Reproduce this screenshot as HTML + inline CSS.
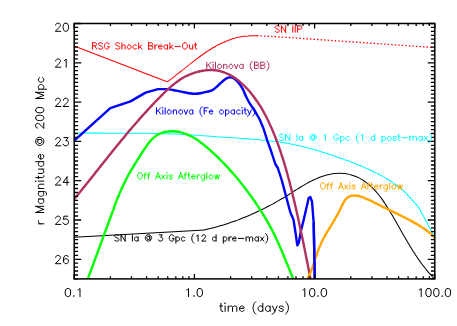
<!DOCTYPE html>
<html lang="en"><head><meta charset="utf-8"><title>Light curves</title>
<style>html,body{margin:0;padding:0;background:#fff}body{width:457px;height:326px;overflow:hidden;font-family:"Liberation Sans",sans-serif}svg{display:block}</style></head>
<body>
<svg width="457" height="326" viewBox="0 0 457 326" role="img" aria-label="Light curves: r magnitude at 200 Mpc versus time in days">
<rect width="457" height="326" fill="#fff"/>
<defs><clipPath id="c"><rect x="74.20" y="23.50" width="360.60" height="255.40"/></clipPath></defs>
<g fill="none" stroke-linejoin="round" clip-path="url(#c)">
<path d="M74.2 46.1L167.0 81.7" stroke="#f00" stroke-width="1.05"/>
<path d="M167.3 81.9C167.8 81.5 169.5 80.3 170.6 79.4C171.7 78.6 172.9 77.7 174.0 76.8C175.1 76.0 176.2 75.1 177.3 74.2C178.4 73.3 179.6 72.4 180.7 71.5C181.8 70.6 182.9 69.7 184.1 68.8C185.2 67.9 186.3 67.0 187.5 66.1C188.6 65.2 189.7 64.3 190.9 63.4C192.0 62.5 193.2 61.6 194.3 60.7C195.5 59.8 196.6 58.9 197.8 58.1C198.9 57.2 200.1 56.4 201.3 55.5C202.5 54.7 203.7 53.8 204.8 53.0C206.0 52.2 207.2 51.4 208.4 50.6C209.7 49.8 210.9 49.1 212.1 48.3C213.3 47.6 214.6 46.9 215.8 46.2C217.1 45.5 218.3 44.8 219.6 44.2C220.9 43.6 222.1 43.0 223.4 42.4C224.7 41.8 226.0 41.2 227.3 40.7C228.7 40.2 230.0 39.7 231.3 39.3C232.7 38.8 234.0 38.4 235.4 38.1C236.8 37.7 238.2 37.3 239.6 37.1C241.0 36.8 242.4 36.5 243.8 36.3C245.3 36.1 246.7 36.0 248.2 35.9C249.7 35.7 251.1 35.7 252.6 35.7C254.1 35.7 256.4 35.8 257.2 35.8" stroke="#f00" stroke-width="1.05"/>
<path d="M257.0 35.6L288.0 37.5L435.0 47.6" stroke="#f00" stroke-width="1.30" stroke-dasharray="1.45 2.09"/>
<path d="M74.0 132.9C74.7 132.9 76.7 133.0 78.1 133.0C79.4 133.0 80.8 133.0 82.1 133.0C83.5 133.0 84.9 133.1 86.2 133.1C87.6 133.1 88.9 133.1 90.3 133.1C91.6 133.1 93.0 133.1 94.3 133.1C95.7 133.1 97.0 133.1 98.4 133.1C99.8 133.1 101.1 133.1 102.5 133.1C103.8 133.1 105.2 133.1 106.5 133.2C107.9 133.2 109.3 133.2 110.6 133.2C112.0 133.2 113.3 133.2 114.7 133.2C116.1 133.2 117.4 133.2 118.8 133.2C120.1 133.2 121.5 133.2 122.9 133.2C124.2 133.2 125.6 133.2 126.9 133.2C128.3 133.2 129.7 133.2 131.0 133.2C132.4 133.2 133.7 133.2 135.1 133.2C136.5 133.2 137.8 133.2 139.2 133.2C140.6 133.2 141.9 133.2 143.3 133.3C144.6 133.3 146.0 133.3 147.4 133.3C148.7 133.3 150.1 133.3 151.5 133.4C152.8 133.4 154.2 133.4 155.6 133.4C156.9 133.5 158.3 133.5 159.6 133.5C161.0 133.6 162.4 133.6 163.7 133.6C165.1 133.7 166.5 133.7 167.8 133.8C169.2 133.8 170.6 133.9 171.9 133.9C173.3 134.0 174.6 134.0 176.0 134.1C177.4 134.2 178.7 134.2 180.1 134.3C181.5 134.4 182.8 134.4 184.2 134.5C185.5 134.6 186.9 134.7 188.3 134.7C189.6 134.8 191.0 134.9 192.4 135.0C193.7 135.1 195.1 135.2 196.4 135.3C197.8 135.3 199.2 135.4 200.5 135.5C201.9 135.6 203.2 135.7 204.6 135.8C206.0 135.9 207.3 136.0 208.7 136.1C210.0 136.2 211.4 136.3 212.8 136.4C214.1 136.5 215.5 136.6 216.8 136.7C218.2 136.8 219.6 136.9 220.9 137.0C222.3 137.1 223.6 137.2 225.0 137.3C226.3 137.4 227.7 137.5 229.0 137.5C230.4 137.6 231.8 137.7 233.1 137.8C234.5 137.9 235.8 138.0 237.2 138.1C238.5 138.2 239.9 138.3 241.2 138.4C242.6 138.5 243.9 138.6 245.3 138.6C246.6 138.7 248.0 138.8 249.3 138.9C250.7 139.0 252.0 139.1 253.4 139.2C254.7 139.4 256.1 139.5 257.4 139.6C258.8 139.7 260.1 139.8 261.4 139.9C262.8 140.1 264.1 140.2 265.5 140.3C266.8 140.5 268.2 140.6 269.5 140.8C270.8 140.9 272.2 141.1 273.5 141.3C274.9 141.4 276.2 141.6 277.5 141.8C278.9 142.0 280.2 142.2 281.6 142.4C282.9 142.6 284.2 142.8 285.6 143.0C286.9 143.3 288.2 143.5 289.6 143.7C290.9 144.0 292.2 144.3 293.6 144.5C294.9 144.8 296.2 145.1 297.6 145.4C298.9 145.7 300.2 146.0 301.5 146.3C302.9 146.6 304.2 146.9 305.5 147.3C306.8 147.6 308.2 148.0 309.5 148.3C310.8 148.7 312.1 149.0 313.4 149.4C314.8 149.8 316.1 150.2 317.4 150.5C318.7 150.9 320.0 151.3 321.3 151.7C322.7 152.1 324.0 152.5 325.3 153.0C326.6 153.4 327.9 153.8 329.2 154.2C330.5 154.7 331.8 155.1 333.1 155.5C334.4 156.0 335.7 156.4 337.0 156.9C338.3 157.3 339.6 157.8 340.9 158.3C342.2 158.7 343.5 159.2 344.7 159.7C346.0 160.1 347.3 160.6 348.6 161.1C349.9 161.6 351.1 162.0 352.4 162.5C353.7 163.0 354.9 163.5 356.2 164.0C357.4 164.5 358.7 165.0 359.9 165.6C361.2 166.1 362.4 166.6 363.7 167.1C364.9 167.7 366.1 168.2 367.4 168.8C368.6 169.3 369.8 169.9 371.0 170.4C372.3 171.0 373.5 171.6 374.7 172.2C375.9 172.8 377.1 173.4 378.3 174.0C379.5 174.6 380.7 175.3 381.8 175.9C383.0 176.6 384.2 177.2 385.4 177.9C386.5 178.6 387.7 179.3 388.8 180.0C390.0 180.7 391.1 181.4 392.3 182.2C393.4 183.0 394.5 183.7 395.6 184.5C396.7 185.3 397.8 186.1 398.9 187.0C400.0 187.8 401.0 188.7 402.1 189.6C403.1 190.5 404.2 191.4 405.2 192.3C406.2 193.3 407.6 194.8 408.1 195.3L408.0 195.3L418.3 206.8L435.2 238.1" stroke="#0ff" stroke-width="1.05"/>
<path d="M74.0 237.3L174.0 231.8L204.2 230.0" stroke="#000" stroke-width="1.05"/>
<path d="M204.1 229.9C204.7 229.7 206.8 229.3 208.2 229.0C209.5 228.7 210.9 228.3 212.2 228.0C213.6 227.7 214.9 227.3 216.2 226.9C217.6 226.6 218.9 226.2 220.2 225.8C221.5 225.4 222.8 225.1 224.2 224.7C225.5 224.3 226.8 223.8 228.1 223.4C229.4 223.0 230.7 222.6 231.9 222.1C233.2 221.7 234.5 221.2 235.8 220.7C237.1 220.3 238.3 219.8 239.6 219.3C240.9 218.8 242.1 218.3 243.4 217.8C244.7 217.3 245.9 216.8 247.2 216.3C248.4 215.8 249.7 215.2 250.9 214.7C252.2 214.1 253.4 213.6 254.6 213.0C255.9 212.5 257.1 211.9 258.3 211.3C259.5 210.7 260.8 210.1 262.0 209.5C263.2 208.9 264.4 208.3 265.6 207.7C266.8 207.1 268.0 206.5 269.2 205.8C270.4 205.2 271.7 204.5 272.9 203.9C274.0 203.2 275.2 202.6 276.4 201.9C277.6 201.2 278.8 200.5 280.0 199.8C281.2 199.1 282.4 198.4 283.6 197.7C284.7 197.0 285.9 196.3 287.1 195.6C288.3 194.8 289.5 194.1 290.6 193.4C291.8 192.6 293.0 191.9 294.2 191.1C295.3 190.4 296.5 189.6 297.7 188.9C298.9 188.2 300.1 187.4 301.2 186.7C302.4 186.0 303.6 185.3 304.8 184.6C306.0 183.9 307.2 183.2 308.5 182.5C309.7 181.9 310.9 181.2 312.1 180.6C313.4 180.0 314.6 179.4 315.9 178.9C317.1 178.3 318.4 177.8 319.7 177.3C321.0 176.8 322.3 176.3 323.6 175.9C324.9 175.5 326.2 175.1 327.5 174.8C328.9 174.5 330.2 174.2 331.5 174.0C332.9 173.7 334.2 173.6 335.6 173.4C336.9 173.3 338.2 173.3 339.6 173.3C340.9 173.3 342.2 173.3 343.6 173.4C344.9 173.6 346.2 173.7 347.5 174.0C348.8 174.2 350.1 174.5 351.4 174.9C352.7 175.3 354.0 175.7 355.2 176.2C356.4 176.7 357.7 177.3 358.9 177.9C360.1 178.5 361.2 179.2 362.4 179.9C363.5 180.6 364.7 181.4 365.8 182.1C366.8 182.9 367.9 183.8 369.0 184.7C370.0 185.6 371.0 186.5 372.0 187.4C373.0 188.4 373.9 189.4 374.9 190.4C375.8 191.4 376.7 192.4 377.6 193.5C378.5 194.5 379.3 195.6 380.2 196.7C381.0 197.8 381.9 199.0 382.7 200.1C383.5 201.3 384.3 202.4 385.0 203.6C385.8 204.8 386.6 206.0 387.3 207.2C388.1 208.3 388.8 209.5 389.5 210.7C390.3 211.9 391.0 213.2 391.7 214.4C392.4 215.6 393.1 216.8 393.8 218.0C394.5 219.2 395.2 220.4 395.9 221.6C396.5 222.8 397.2 224.0 397.9 225.2C398.6 226.4 399.2 227.6 399.9 228.7C400.6 229.9 401.3 231.1 401.9 232.3C402.6 233.5 403.3 234.7 403.9 235.8C404.6 237.0 405.3 238.2 406.0 239.3C406.6 240.5 407.3 241.7 408.0 242.8C408.7 244.0 409.4 245.1 410.1 246.3C410.8 247.4 411.5 248.6 412.2 249.7C412.9 250.9 413.6 252.0 414.4 253.1C415.1 254.3 415.9 255.4 416.6 256.5C417.4 257.6 418.1 258.8 418.9 259.9C419.7 261.0 420.5 262.1 421.3 263.2C422.1 264.3 422.9 265.4 423.8 266.4C424.6 267.5 425.5 268.6 426.3 269.7C427.2 270.8 428.1 271.8 429.0 272.9C429.9 273.9 430.9 275.0 431.8 276.0C432.8 277.1 434.3 278.6 434.8 279.2" stroke="#000" stroke-width="1.05"/>
<path d="M74.0 140.9L110.3 108.2L130.5 101.4L145.6 92.6L158.1 89.1L168.2 89.1L168.2 89.1 C169.2 89.3 171.9 89.8 174.0 90.2 C176.1 90.6 177.6 91.0 181.0 91.6 C184.4 92.2 190.6 93.6 194.3 93.8 C198.0 94.0 200.2 93.2 203.1 92.6 C206.0 92.0 209.3 91.7 211.9 90.4 C214.5 89.1 216.4 86.9 218.6 85.0 C220.8 83.1 223.4 80.5 225.2 79.2 C227.0 77.9 228.1 77.5 229.6 77.4 C231.1 77.3 232.5 77.7 234.0 78.5 C235.5 79.3 236.9 80.7 238.4 82.5 C239.9 84.3 241.5 86.7 242.8 89.1 C244.1 91.5 245.1 94.5 246.2 96.8 C247.3 99.1 248.1 100.7 249.5 103.0 C250.9 105.3 253.7 109.2 254.5 110.5L259.5 119.0L263.5 128.5L267.3 140.6L270.9 150.5L275.3 164.0L277.8 168.0L281.7 180.0L286.0 196.1L290.3 212.3L293.5 219.8L295.7 233.8L297.3 245.4L298.9 242.4L301.0 230.5L303.2 221.9L306.4 208.0L308.6 198.3L310.3 197.0L312.0 201.5L313.7 223.0L314.8 280.0" stroke="#00f" stroke-width="2.40"/>
<path d="M74.0 199.4C74.4 198.9 75.7 197.3 76.5 196.3C77.4 195.2 78.3 194.2 79.1 193.1C80.0 192.1 80.8 191.0 81.7 190.0C82.5 188.9 83.4 187.8 84.2 186.8C85.1 185.7 85.9 184.7 86.8 183.6C87.6 182.5 88.5 181.5 89.3 180.4C90.1 179.4 91.0 178.3 91.8 177.2C92.7 176.2 93.5 175.1 94.4 174.1C95.2 173.0 96.0 171.9 96.9 170.9C97.7 169.8 98.6 168.8 99.4 167.7C100.3 166.6 101.1 165.6 101.9 164.5C102.8 163.4 103.6 162.4 104.5 161.3C105.3 160.3 106.2 159.2 107.0 158.2C107.8 157.1 108.7 156.0 109.5 155.0C110.4 153.9 111.2 152.9 112.1 151.8C112.9 150.8 113.8 149.7 114.6 148.7C115.5 147.6 116.3 146.6 117.2 145.5C118.0 144.5 118.9 143.4 119.7 142.4C120.6 141.3 121.4 140.3 122.3 139.2C123.2 138.2 124.0 137.1 124.9 136.1C125.8 135.1 126.6 134.0 127.5 133.0C128.4 131.9 129.2 130.9 130.1 129.9C131.0 128.8 131.9 127.8 132.7 126.8C133.6 125.8 134.5 124.7 135.4 123.7C136.3 122.7 137.2 121.7 138.1 120.7C138.9 119.6 139.8 118.6 140.7 117.6C141.6 116.6 142.5 115.6 143.4 114.6C144.3 113.6 145.3 112.6 146.2 111.6C147.1 110.6 148.0 109.6 148.9 108.6C149.8 107.6 150.8 106.6 151.7 105.6C152.6 104.6 153.6 103.6 154.5 102.7C155.4 101.7 156.4 100.7 157.3 99.7C158.3 98.8 159.2 97.8 160.2 96.8C161.2 95.9 162.1 94.9 163.1 93.9C164.1 93.0 165.0 92.0 166.0 91.1C167.0 90.2 168.0 89.2 169.0 88.3C170.0 87.4 171.0 86.5 172.1 85.6C173.1 84.8 174.1 83.9 175.2 83.1C176.3 82.3 177.4 81.5 178.5 80.7C179.6 79.9 180.7 79.2 181.8 78.5C183.0 77.8 184.1 77.1 185.3 76.5C186.5 75.9 187.7 75.3 189.0 74.8C190.2 74.2 191.5 73.7 192.8 73.3C194.1 72.8 195.4 72.4 196.7 72.1C198.0 71.7 199.4 71.4 200.7 71.1C202.1 70.9 203.4 70.6 204.8 70.4C206.1 70.3 207.5 70.1 208.9 70.1C210.2 70.0 211.6 70.0 212.9 70.0C214.3 70.1 215.6 70.3 217.0 70.5C218.3 70.7 219.6 71.0 220.9 71.3C222.2 71.7 223.5 72.1 224.7 72.6C226.0 73.0 227.2 73.6 228.4 74.2C229.7 74.7 230.8 75.4 232.0 76.1C233.1 76.7 234.3 77.5 235.4 78.2C236.5 79.0 237.5 79.8 238.6 80.6C239.7 81.5 240.7 82.4 241.7 83.3C242.7 84.2 243.7 85.1 244.6 86.1C245.6 87.0 246.5 88.0 247.4 89.0C248.3 90.0 249.2 91.0 250.1 92.1C251.0 93.1 251.8 94.2 252.7 95.2C253.5 96.3 254.3 97.4 255.1 98.5C255.9 99.6 256.7 100.7 257.4 101.8C258.2 102.9 258.9 104.1 259.6 105.2C260.4 106.4 261.1 107.5 261.8 108.7C262.5 109.9 263.1 111.0 263.8 112.2C264.4 113.4 265.1 114.6 265.7 115.8C266.4 117.0 267.0 118.3 267.6 119.5C268.2 120.7 268.8 121.9 269.3 123.2C269.9 124.4 270.5 125.7 271.0 126.9C271.6 128.2 272.1 129.4 272.7 130.7C273.2 131.9 273.7 133.2 274.2 134.4C274.7 135.7 275.2 137.0 275.7 138.2C276.2 139.5 276.7 140.8 277.2 142.1C277.6 143.3 278.1 144.6 278.6 145.9C279.0 147.2 279.5 148.4 279.9 149.7C280.3 151.0 280.8 152.3 281.2 153.6C281.6 154.8 282.0 156.1 282.5 157.4C282.9 158.7 283.3 160.0 283.7 161.3C284.1 162.6 284.5 163.9 284.8 165.2C285.2 166.5 285.6 167.8 286.0 169.0C286.3 170.3 286.7 171.6 287.1 172.9C287.4 174.2 287.8 175.5 288.1 176.8C288.5 178.1 288.8 179.5 289.2 180.8C289.5 182.1 289.9 183.4 290.2 184.7C290.5 186.0 290.9 187.3 291.2 188.6C291.5 189.9 291.8 191.2 292.2 192.5C292.5 193.9 292.8 195.2 293.1 196.5C293.4 197.8 293.8 199.1 294.1 200.4C294.4 201.7 294.7 203.1 295.0 204.4C295.3 205.7 295.6 207.0 295.9 208.3C296.2 209.7 296.5 211.0 296.8 212.3C297.1 213.6 297.4 214.9 297.7 216.3C298.0 217.6 298.3 218.9 298.6 220.2C298.9 221.6 299.1 222.9 299.4 224.2C299.7 225.5 300.0 226.9 300.3 228.2C300.6 229.5 300.8 230.8 301.1 232.2C301.4 233.5 301.7 234.8 302.0 236.2C302.2 237.5 302.5 238.8 302.8 240.1C303.1 241.5 303.3 242.8 303.6 244.1C303.9 245.5 304.1 246.8 304.4 248.1C304.7 249.4 304.9 250.8 305.2 252.1C305.5 253.4 305.7 254.8 306.0 256.1C306.3 257.4 306.5 258.7 306.8 260.1C307.1 261.4 307.3 262.7 307.6 264.1C307.9 265.4 308.1 266.7 308.4 268.1C308.6 269.4 308.9 270.7 309.2 272.0C309.4 273.4 309.7 274.7 309.9 276.0C310.2 277.3 310.6 279.3 310.7 280.0" stroke="#b03060" stroke-width="2.40"/>
<path d="M87.4 280.0L113.8 208.3L113.8 208.3C114.0 207.6 114.7 205.7 115.2 204.4C115.7 203.2 116.2 201.9 116.6 200.6C117.1 199.4 117.6 198.1 118.1 196.9C118.7 195.6 119.2 194.4 119.7 193.1C120.2 191.9 120.8 190.6 121.3 189.4C121.9 188.2 122.4 187.0 123.0 185.7C123.6 184.5 124.2 183.3 124.8 182.1C125.4 180.9 126.0 179.7 126.6 178.5C127.2 177.3 127.9 176.1 128.5 174.9C129.2 173.7 129.9 172.5 130.5 171.3C131.2 170.2 131.9 169.0 132.6 167.8C133.3 166.6 134.0 165.5 134.7 164.3C135.4 163.1 136.2 162.0 136.9 160.8C137.6 159.7 138.3 158.5 139.1 157.4C139.8 156.2 140.6 155.1 141.3 153.9C142.0 152.8 142.8 151.6 143.5 150.5C144.3 149.3 145.0 148.2 145.8 147.1C146.5 146.0 147.3 144.8 148.1 143.8C148.9 142.7 149.7 141.7 150.6 140.7C151.5 139.7 152.4 138.7 153.4 137.9C154.4 137.0 155.5 136.2 156.6 135.4C157.7 134.7 158.9 134.1 160.2 133.5C161.4 133.0 162.7 132.6 164.0 132.2C165.3 131.9 166.6 131.6 168.0 131.5C169.3 131.3 170.7 131.2 172.1 131.2C173.5 131.2 174.8 131.3 176.2 131.5C177.6 131.7 178.9 131.9 180.3 132.2C181.6 132.5 182.9 132.9 184.2 133.3C185.5 133.7 186.7 134.2 188.0 134.8C189.2 135.3 190.4 135.9 191.6 136.5C192.8 137.1 194.0 137.8 195.1 138.5C196.3 139.3 197.4 140.0 198.5 140.8C199.6 141.6 200.7 142.4 201.8 143.2C202.9 144.0 203.9 144.9 205.0 145.8C206.0 146.6 207.1 147.5 208.1 148.4C209.2 149.3 210.2 150.2 211.2 151.1C212.2 152.1 213.2 153.0 214.2 153.9C215.2 154.8 216.2 155.8 217.2 156.7C218.1 157.6 219.1 158.6 220.1 159.6C221.0 160.5 222.0 161.5 222.9 162.4C223.9 163.4 224.8 164.4 225.7 165.4C226.7 166.4 227.6 167.4 228.5 168.3C229.4 169.3 230.3 170.4 231.2 171.4C232.1 172.4 233.0 173.4 233.9 174.4C234.8 175.4 235.6 176.5 236.5 177.5C237.4 178.5 238.2 179.6 239.1 180.6C239.9 181.7 240.8 182.7 241.6 183.8C242.5 184.9 243.3 185.9 244.1 187.0C245.0 188.1 245.8 189.2 246.6 190.2C247.4 191.3 248.2 192.4 249.0 193.5C249.8 194.6 250.6 195.7 251.4 196.8C252.2 197.9 253.0 199.0 253.8 200.2C254.5 201.3 255.3 202.4 256.1 203.5C256.8 204.7 257.6 205.8 258.4 206.9C259.1 208.1 259.8 209.2 260.6 210.4C261.3 211.5 262.0 212.7 262.8 213.8C263.5 215.0 264.2 216.1 264.9 217.3C265.6 218.5 266.3 219.6 267.0 220.8C267.7 222.0 268.3 223.2 269.0 224.4C269.6 225.5 270.3 226.7 270.9 227.9C271.6 229.1 272.2 230.3 272.8 231.5C273.4 232.7 274.0 233.9 274.6 235.1C275.2 236.3 275.8 237.6 276.3 238.8C276.9 240.0 277.5 241.2 278.0 242.4C278.6 243.7 279.1 244.9 279.7 246.1C280.2 247.4 280.7 248.6 281.3 249.8C281.8 251.1 282.3 252.3 282.8 253.6C283.4 254.8 283.9 256.0 284.4 257.3C284.9 258.6 285.4 259.8 285.9 261.1C286.4 262.3 287.0 263.6 287.5 264.8C288.0 266.1 288.5 267.4 289.0 268.6C289.5 269.9 290.1 271.2 290.6 272.4C291.1 273.7 291.6 275.0 292.2 276.3C292.7 277.6 293.5 279.5 293.8 280.1" stroke="#0f0" stroke-width="2.40"/>
<path d="M307.0 280.0C307.3 279.4 308.2 277.6 308.8 276.4C309.4 275.2 309.9 273.9 310.4 272.7C311.0 271.4 311.4 270.1 311.9 268.9C312.4 267.6 312.8 266.3 313.3 265.0C313.7 263.7 314.2 262.3 314.6 261.0C315.0 259.7 315.5 258.4 315.9 257.1C316.3 255.8 316.8 254.5 317.2 253.2C317.7 251.9 318.1 250.6 318.6 249.3C319.1 248.0 319.6 246.8 320.2 245.5C320.7 244.3 321.2 243.0 321.8 241.8C322.4 240.6 323.0 239.4 323.6 238.2C324.3 237.1 324.9 235.9 325.6 234.7C326.2 233.6 326.9 232.4 327.6 231.2C328.3 230.1 329.0 228.9 329.7 227.8C330.4 226.6 331.1 225.5 331.8 224.3C332.5 223.1 333.2 222.0 333.9 220.8C334.6 219.6 335.3 218.4 336.0 217.2C336.7 216.0 337.4 214.8 338.0 213.6C338.7 212.3 339.3 211.1 340.0 209.8C340.6 208.5 341.2 207.2 341.8 205.9C342.5 204.6 343.1 203.3 343.8 202.1C344.5 201.0 345.2 199.8 346.1 198.9C346.9 198.0 347.9 197.2 349.0 196.6C350.1 196.1 351.4 195.7 352.7 195.6C354.0 195.4 355.5 195.5 356.8 195.7C358.2 195.9 359.5 196.3 360.8 196.7C362.2 197.1 363.5 197.6 364.7 198.1C366.0 198.6 367.3 199.1 368.5 199.7C369.8 200.3 371.0 200.9 372.3 201.5C373.5 202.1 374.7 202.8 376.0 203.4C377.2 204.0 378.4 204.6 379.7 205.2C380.9 205.9 382.1 206.5 383.3 207.1C384.5 207.7 385.8 208.3 387.0 208.9C388.2 209.4 389.4 210.0 390.7 210.6C391.9 211.2 393.1 211.8 394.3 212.4C395.5 213.0 396.7 213.6 398.0 214.2C399.2 214.8 400.4 215.4 401.6 216.0C402.8 216.6 404.0 217.2 405.2 217.8C406.4 218.4 407.7 219.1 408.9 219.7C410.1 220.3 411.3 221.0 412.5 221.6C413.7 222.3 414.9 223.0 416.0 223.6C417.2 224.3 418.4 225.0 419.6 225.7C420.7 226.5 421.9 227.2 423.0 228.0C424.1 228.7 425.2 229.5 426.3 230.3C427.4 231.2 428.5 232.0 429.6 232.9C430.6 233.7 431.6 234.6 432.6 235.6C433.6 236.5 435.1 238.0 435.6 238.5" stroke="#ffa500" stroke-width="2.40"/>
<path d="M313.7 223.0L314.8 280.0" stroke="#00f" stroke-width="2.40"/>
</g>
<path d="M74.2 23.5h7.0M434.8 23.5h-7.0M74.2 27.4h3.9M434.8 27.4h-3.9M74.2 31.4h3.9M434.8 31.4h-3.9M74.2 35.3h3.9M434.8 35.3h-3.9M74.2 39.2h3.9M434.8 39.2h-3.9M74.2 43.1h3.9M434.8 43.1h-3.9M74.2 47.1h3.9M434.8 47.1h-3.9M74.2 51.0h3.9M434.8 51.0h-3.9M74.2 54.9h3.9M434.8 54.9h-3.9M74.2 58.9h3.9M434.8 58.9h-3.9M74.2 62.8h7.0M434.8 62.8h-7.0M74.2 66.7h3.9M434.8 66.7h-3.9M74.2 70.7h3.9M434.8 70.7h-3.9M74.2 74.6h3.9M434.8 74.6h-3.9M74.2 78.5h3.9M434.8 78.5h-3.9M74.2 82.4h3.9M434.8 82.4h-3.9M74.2 86.4h3.9M434.8 86.4h-3.9M74.2 90.3h3.9M434.8 90.3h-3.9M74.2 94.2h3.9M434.8 94.2h-3.9M74.2 98.2h3.9M434.8 98.2h-3.9M74.2 102.1h7.0M434.8 102.1h-7.0M74.2 106.0h3.9M434.8 106.0h-3.9M74.2 109.9h3.9M434.8 109.9h-3.9M74.2 113.9h3.9M434.8 113.9h-3.9M74.2 117.8h3.9M434.8 117.8h-3.9M74.2 121.7h3.9M434.8 121.7h-3.9M74.2 125.7h3.9M434.8 125.7h-3.9M74.2 129.6h3.9M434.8 129.6h-3.9M74.2 133.5h3.9M434.8 133.5h-3.9M74.2 137.4h3.9M434.8 137.4h-3.9M74.2 141.4h7.0M434.8 141.4h-7.0M74.2 145.3h3.9M434.8 145.3h-3.9M74.2 149.2h3.9M434.8 149.2h-3.9M74.2 153.2h3.9M434.8 153.2h-3.9M74.2 157.1h3.9M434.8 157.1h-3.9M74.2 161.0h3.9M434.8 161.0h-3.9M74.2 165.0h3.9M434.8 165.0h-3.9M74.2 168.9h3.9M434.8 168.9h-3.9M74.2 172.8h3.9M434.8 172.8h-3.9M74.2 176.7h3.9M434.8 176.7h-3.9M74.2 180.7h7.0M434.8 180.7h-7.0M74.2 184.6h3.9M434.8 184.6h-3.9M74.2 188.5h3.9M434.8 188.5h-3.9M74.2 192.5h3.9M434.8 192.5h-3.9M74.2 196.4h3.9M434.8 196.4h-3.9M74.2 200.3h3.9M434.8 200.3h-3.9M74.2 204.2h3.9M434.8 204.2h-3.9M74.2 208.2h3.9M434.8 208.2h-3.9M74.2 212.1h3.9M434.8 212.1h-3.9M74.2 216.0h3.9M434.8 216.0h-3.9M74.2 220.0h7.0M434.8 220.0h-7.0M74.2 223.9h3.9M434.8 223.9h-3.9M74.2 227.8h3.9M434.8 227.8h-3.9M74.2 231.7h3.9M434.8 231.7h-3.9M74.2 235.7h3.9M434.8 235.7h-3.9M74.2 239.6h3.9M434.8 239.6h-3.9M74.2 243.5h3.9M434.8 243.5h-3.9M74.2 247.5h3.9M434.8 247.5h-3.9M74.2 251.4h3.9M434.8 251.4h-3.9M74.2 255.3h3.9M434.8 255.3h-3.9M74.2 259.3h7.0M434.8 259.3h-7.0M74.2 263.2h3.9M434.8 263.2h-3.9M74.2 267.1h3.9M434.8 267.1h-3.9M74.2 271.0h3.9M434.8 271.0h-3.9M74.2 275.0h3.9M434.8 275.0h-3.9M74.2 278.9h3.9M434.8 278.9h-3.9M74.2 278.9v-5.0M74.2 23.5v5.0M110.4 278.9v-2.6M110.4 23.5v2.6M131.5 278.9v-2.6M131.5 23.5v2.6M146.6 278.9v-2.6M146.6 23.5v2.6M158.2 278.9v-2.6M158.2 23.5v2.6M167.7 278.9v-2.6M167.7 23.5v2.6M175.8 278.9v-2.6M175.8 23.5v2.6M182.8 278.9v-2.6M182.8 23.5v2.6M188.9 278.9v-2.6M188.9 23.5v2.6M194.4 278.9v-5.0M194.4 23.5v5.0M230.6 278.9v-2.6M230.6 23.5v2.6M251.7 278.9v-2.6M251.7 23.5v2.6M266.8 278.9v-2.6M266.8 23.5v2.6M278.4 278.9v-2.6M278.4 23.5v2.6M287.9 278.9v-2.6M287.9 23.5v2.6M296.0 278.9v-2.6M296.0 23.5v2.6M303.0 278.9v-2.6M303.0 23.5v2.6M309.1 278.9v-2.6M309.1 23.5v2.6M314.6 278.9v-5.0M314.6 23.5v5.0M350.8 278.9v-2.6M350.8 23.5v2.6M371.9 278.9v-2.6M371.9 23.5v2.6M387.0 278.9v-2.6M387.0 23.5v2.6M398.6 278.9v-2.6M398.6 23.5v2.6M408.1 278.9v-2.6M408.1 23.5v2.6M416.2 278.9v-2.6M416.2 23.5v2.6M423.2 278.9v-2.6M423.2 23.5v2.6M429.3 278.9v-2.6M429.3 23.5v2.6M434.8 278.9v-5.0M434.8 23.5v5.0" stroke="#000" stroke-width="1.3" fill="none"/>
<rect x="74.20" y="23.50" width="360.60" height="255.40" fill="none" stroke="#000" stroke-width="1.5"/>
<g role="text" aria-label="20"><title>20</title><path d="M55.7 25.1L55.7 24.7L56.1 23.9L56.5 23.5L57.3 23.2L58.8 23.2L59.6 23.5L60 23.9L60.4 24.7L60.4 25.5L60 26.3L59.2 27.4L55.3 31.3L60.8 31.3M65.4 23.2L64.3 23.5L63.5 24.7L63.1 26.6L63.1 27.8L63.5 29.7L64.3 30.9L65.4 31.3L66.2 31.3L67.4 30.9L68.1 29.7L68.5 27.8L68.5 26.6L68.1 24.7L67.4 23.5L66.2 23.2L65.4 23.2" fill="none" stroke="#000" stroke-width="1.00" stroke-linecap="round" stroke-linejoin="round"/></g>
<g role="text" aria-label="21"><title>21</title><path d="M55.7 61L55.7 60.6L56.1 59.8L56.5 59.4L57.3 59L58.8 59L59.6 59.4L60 59.8L60.4 60.6L60.4 61.4L60 62.1L59.2 63.3L55.3 67.2L60.8 67.2M64.3 60.6L65 60.2L66.2 59L66.2 67.2" fill="none" stroke="#000" stroke-width="1.00" stroke-linecap="round" stroke-linejoin="round"/></g>
<g role="text" aria-label="22"><title>22</title><path d="M55.7 100.3L55.7 99.9L56.1 99.1L56.5 98.7L57.3 98.3L58.8 98.3L59.6 98.7L60 99.1L60.4 99.9L60.4 100.7L60 101.4L59.2 102.6L55.3 106.5L60.8 106.5M63.5 100.3L63.5 99.9L63.9 99.1L64.3 98.7L65 98.3L66.6 98.3L67.4 98.7L67.8 99.1L68.1 99.9L68.1 100.7L67.8 101.4L67 102.6L63.1 106.5L68.5 106.5" fill="none" stroke="#000" stroke-width="1.00" stroke-linecap="round" stroke-linejoin="round"/></g>
<g role="text" aria-label="23"><title>23</title><path d="M55.7 139.6L55.7 139.2L56.1 138.4L56.5 138L57.3 137.6L58.8 137.6L59.6 138L60 138.4L60.4 139.2L60.4 140L60 140.7L59.2 141.9L55.3 145.8L60.8 145.8M63.9 137.6L68.1 137.6L65.8 140.7L67 140.7L67.8 141.1L68.1 141.5L68.5 142.7L68.5 143.4L68.1 144.6L67.4 145.4L66.2 145.8L65 145.8L63.9 145.4L63.5 145L63.1 144.2" fill="none" stroke="#000" stroke-width="1.00" stroke-linecap="round" stroke-linejoin="round"/></g>
<g role="text" aria-label="24"><title>24</title><path d="M55.7 178.9L55.7 178.5L56.1 177.7L56.5 177.3L57.3 176.9L58.8 176.9L59.6 177.3L60 177.7L60.4 178.5L60.4 179.2L60 180L59.2 181.2L55.3 185.1L60.8 185.1M67 176.9L63.1 182.4L68.9 182.4M67 176.9L67 185.1" fill="none" stroke="#000" stroke-width="1.00" stroke-linecap="round" stroke-linejoin="round"/></g>
<g role="text" aria-label="25"><title>25</title><path d="M55.7 218.2L55.7 217.8L56.1 217L56.5 216.6L57.3 216.2L58.8 216.2L59.6 216.6L60 217L60.4 217.8L60.4 218.5L60 219.3L59.2 220.5L55.3 224.4L60.8 224.4M67.8 216.2L63.9 216.2L63.5 219.7L63.9 219.3L65 218.9L66.2 218.9L67.4 219.3L68.1 220.1L68.5 221.3L68.5 222L68.1 223.2L67.4 224L66.2 224.4L65 224.4L63.9 224L63.5 223.6L63.1 222.8" fill="none" stroke="#000" stroke-width="1.00" stroke-linecap="round" stroke-linejoin="round"/></g>
<g role="text" aria-label="26"><title>26</title><path d="M55.7 257.4L55.7 257.1L56.1 256.3L56.5 255.9L57.3 255.5L58.8 255.5L59.6 255.9L60 256.3L60.4 257.1L60.4 257.8L60 258.6L59.2 259.8L55.3 263.7L60.8 263.7M68.1 256.7L67.8 255.9L66.6 255.5L65.8 255.5L64.7 255.9L63.9 257.1L63.5 259L63.5 260.9L63.9 262.5L64.7 263.3L65.8 263.7L66.2 263.7L67.4 263.3L68.1 262.5L68.5 261.3L68.5 260.9L68.1 259.8L67.4 259L66.2 258.6L65.8 258.6L64.7 259L63.9 259.8L63.5 260.9" fill="none" stroke="#000" stroke-width="1.00" stroke-linecap="round" stroke-linejoin="round"/></g>
<g role="text" aria-label="0.1"><title>0.1</title><path d="M67.5 288.5L66.4 288.8L65.6 290L65.2 291.9L65.2 293.1L65.6 295L66.4 296.2L67.5 296.6L68.3 296.6L69.5 296.2L70.3 295L70.6 293.1L70.6 291.9L70.3 290L69.5 288.8L68.3 288.5L67.5 288.5M73.8 295.8L73.4 296.2L73.8 296.6L74.1 296.2L73.8 295.8M78 290L78.8 289.6L80 288.5L80 296.6" fill="none" stroke="#000" stroke-width="1.00" stroke-linecap="round" stroke-linejoin="round"/></g>
<g role="text" aria-label="1.0"><title>1.0</title><path d="M186.6 290L187.4 289.6L188.5 288.5L188.5 296.6M194 295.8L193.6 296.2L194 296.6L194.3 296.2L194 295.8M199.4 288.5L198.2 288.8L197.4 290L197.1 291.9L197.1 293.1L197.4 295L198.2 296.2L199.4 296.6L200.2 296.6L201.3 296.2L202.1 295L202.5 293.1L202.5 291.9L202.1 290L201.3 288.8L200.2 288.5L199.4 288.5" fill="none" stroke="#000" stroke-width="1.00" stroke-linecap="round" stroke-linejoin="round"/></g>
<g role="text" aria-label="10.0"><title>10.0</title><path d="M302.9 290L303.7 289.6L304.8 288.5L304.8 296.6M311.8 288.5L310.7 288.8L309.9 290L309.5 291.9L309.5 293.1L309.9 295L310.7 296.2L311.8 296.6L312.6 296.6L313.8 296.2L314.5 295L314.9 293.1L314.9 291.9L314.5 290L313.8 288.8L312.6 288.5L311.8 288.5M318 295.8L317.6 296.2L318 296.6L318.4 296.2L318 295.8M323.5 288.5L322.3 288.8L321.5 290L321.1 291.9L321.1 293.1L321.5 295L322.3 296.2L323.5 296.6L324.2 296.6L325.4 296.2L326.2 295L326.6 293.1L326.6 291.9L326.2 290L325.4 288.8L324.2 288.5L323.5 288.5" fill="none" stroke="#000" stroke-width="1.00" stroke-linecap="round" stroke-linejoin="round"/></g>
<g role="text" aria-label="100.0"><title>100.0</title><path d="M419.2 290L420 289.6L421.2 288.5L421.2 296.6M428.1 288.5L427 288.8L426.2 290L425.8 291.9L425.8 293.1L426.2 295L427 296.2L428.1 296.6L428.9 296.6L430.1 296.2L430.9 295L431.2 293.1L431.2 291.9L430.9 290L430.1 288.8L428.9 288.5L428.1 288.5M435.9 288.5L434.7 288.8L434 290L433.6 291.9L433.6 293.1L434 295L434.7 296.2L435.9 296.6L436.7 296.6L437.8 296.2L438.6 295L439 293.1L439 291.9L438.6 290L437.8 288.8L436.7 288.5L435.9 288.5M442.1 295.8L441.7 296.2L442.1 296.6L442.5 296.2L442.1 295.8M447.5 288.5L446.4 288.8L445.6 290L445.2 291.9L445.2 293.1L445.6 295L446.4 296.2L447.5 296.6L448.3 296.6L449.5 296.2L450.3 295L450.6 293.1L450.6 291.9L450.3 290L449.5 288.8L448.3 288.5L447.5 288.5" fill="none" stroke="#000" stroke-width="1.00" stroke-linecap="round" stroke-linejoin="round"/></g>
<g role="text" aria-label="time (days)"><title>time (days)</title><path d="M220.9 303.3L220.9 309.8L221.3 311L222 311.4L222.8 311.4M219.7 306L222.4 306M224.7 303.3L225.1 303.6L225.5 303.3L225.1 302.9L224.7 303.3M225.1 306L225.1 311.4M228.2 306L228.2 311.4M228.2 307.5L229.4 306.4L230.2 306L231.3 306L232.1 306.4L232.5 307.5L232.5 311.4M232.5 307.5L233.7 306.4L234.4 306L235.6 306L236.4 306.4L236.8 307.5L236.8 311.4M239.5 308.3L244.1 308.3L244.1 307.5L243.8 306.7L243.4 306.4L242.6 306L241.4 306L240.7 306.4L239.9 307.1L239.5 308.3L239.5 309.1L239.9 310.2L240.7 311L241.4 311.4L242.6 311.4L243.4 311L244.1 310.2M255.8 301.7L255 302.5L254.2 303.6L253.5 305.2L253.1 307.1L253.1 308.7L253.5 310.6L254.2 312.2L255 313.3L255.8 314.1M262.8 303.3L262.8 311.4M262.8 307.1L262 306.4L261.2 306L260.1 306L259.3 306.4L258.5 307.1L258.1 308.3L258.1 309.1L258.5 310.2L259.3 311L260.1 311.4L261.2 311.4L262 311L262.8 310.2M270.1 306L270.1 311.4M270.1 307.1L269.4 306.4L268.6 306L267.4 306L266.6 306.4L265.9 307.1L265.5 308.3L265.5 309.1L265.9 310.2L266.6 311L267.4 311.4L268.6 311.4L269.4 311L270.1 310.2M272.5 306L274.8 311.4M277.1 306L274.8 311.4L274 313L273.2 313.7L272.5 314.1L272.1 314.1M283.3 307.1L282.9 306.4L281.8 306L280.6 306L279.5 306.4L279.1 307.1L279.5 307.9L280.2 308.3L282.2 308.7L282.9 309.1L283.3 309.8L283.3 310.2L282.9 311L281.8 311.4L280.6 311.4L279.5 311L279.1 310.2M285.7 301.7L286.4 302.5L287.2 303.6L288 305.2L288.4 307.1L288.4 308.7L288 310.6L287.2 312.2L286.4 313.3L285.7 314.1" fill="none" stroke="#000" stroke-width="1.00" stroke-linecap="round" stroke-linejoin="round"/></g>
<g role="text" aria-label="r Magnitude @ 200 Mpc"><title>r Magnitude @ 200 Mpc</title><path d="M38.4 223.8L43.8 223.8M40.7 223.8L39.5 223.4L38.8 222.6L38.4 221.9L38.4 220.7M35.7 212.5L43.8 212.5M35.7 212.5L43.8 209.4M35.7 206.3L43.8 209.4M35.7 206.3L43.8 206.3M38.4 199L43.8 199M39.5 199L38.8 199.7L38.4 200.5L38.4 201.7L38.8 202.5L39.5 203.2L40.7 203.6L41.5 203.6L42.6 203.2L43.4 202.5L43.8 201.7L43.8 200.5L43.4 199.7L42.6 199M38.4 191.6L44.6 191.6L45.7 192L46.1 192.4L46.5 193.1L46.5 194.3L46.1 195.1M39.5 191.6L38.8 192.4L38.4 193.1L38.4 194.3L38.8 195.1L39.5 195.9L40.7 196.3L41.5 196.3L42.6 195.9L43.4 195.1L43.8 194.3L43.8 193.1L43.4 192.4L42.6 191.6M38.4 188.5L43.8 188.5M39.9 188.5L38.8 187.3L38.4 186.6L38.4 185.4L38.8 184.6L39.9 184.2L43.8 184.2M35.7 181.5L36 181.1L35.7 180.7L35.3 181.1L35.7 181.5M38.4 181.1L43.8 181.1M35.7 177.6L42.2 177.6L43.4 177.2L43.8 176.5L43.8 175.7M38.4 178.8L38.4 176.1M38.4 173.4L42.2 173.4L43.4 173L43.8 172.2L43.8 171L43.4 170.3L42.2 169.1M38.4 169.1L43.8 169.1M35.7 161.7L43.8 161.7M39.5 161.7L38.8 162.5L38.4 163.3L38.4 164.4L38.8 165.2L39.5 166L40.7 166.4L41.5 166.4L42.6 166L43.4 165.2L43.8 164.4L43.8 163.3L43.4 162.5L42.6 161.7M40.7 159L40.7 154.3L39.9 154.3L39.1 154.7L38.8 155.1L38.4 155.9L38.4 157.1L38.8 157.8L39.5 158.6L40.7 159L41.5 159L42.6 158.6L43.4 157.8L43.8 157.1L43.8 155.9L43.4 155.1L42.6 154.3M38.8 139.6L38 140L37.6 140.8L37.6 141.9L38 142.7L38.4 143.1L39.1 143.5L40.3 143.5L41.1 143.1L41.5 142.7L41.9 141.9L41.9 140.8L41.5 140L40.7 139.6M37.6 139.6L40.7 139.6L41.5 139.2L41.9 138.8L41.9 138.1L41.5 137.7L40.7 137.3L39.1 137.3L38 137.7L37.2 138.1L36.4 138.8L36 139.6L35.7 140.8L35.7 141.9L36 143.1L36.4 143.9L37.2 144.6L38 145L39.1 145.4L40.3 145.4L41.5 145L42.2 144.6L43 143.9L43.4 143.1L43.8 141.9L43.8 140.8L43.4 139.6L43 138.8M37.6 128L37.2 128L36.4 127.6L36 127.2L35.7 126.4L35.7 124.9L36 124.1L36.4 123.7L37.2 123.3L38 123.3L38.8 123.7L39.9 124.5L43.8 128.4L43.8 122.9M35.7 118.3L36 119.4L37.2 120.2L39.1 120.6L40.3 120.6L42.2 120.2L43.4 119.4L43.8 118.3L43.8 117.5L43.4 116.3L42.2 115.5L40.3 115.2L39.1 115.2L37.2 115.5L36 116.3L35.7 117.5L35.7 118.3M35.7 110.5L36 111.7L37.2 112.4L39.1 112.8L40.3 112.8L42.2 112.4L43.4 111.7L43.8 110.5L43.8 109.7L43.4 108.6L42.2 107.8L40.3 107.4L39.1 107.4L37.2 107.8L36 108.6L35.7 109.7L35.7 110.5M35.7 98.5L43.8 98.5M35.7 98.5L43.8 95.4M35.7 92.3L43.8 95.4M35.7 92.3L43.8 92.3M38.4 89.2L46.5 89.2M39.5 89.2L38.8 88.4L38.4 87.6L38.4 86.4L38.8 85.7L39.5 84.9L40.7 84.5L41.5 84.5L42.6 84.9L43.4 85.7L43.8 86.4L43.8 87.6L43.4 88.4L42.6 89.2M39.5 77.5L38.8 78.3L38.4 79.1L38.4 80.2L38.8 81L39.5 81.8L40.7 82.2L41.5 82.2L42.6 81.8L43.4 81L43.8 80.2L43.8 79.1L43.4 78.3L42.6 77.5" fill="none" stroke="#000" stroke-width="1.00" stroke-linecap="round" stroke-linejoin="round"/></g>
<g role="text" aria-label="RSG Shock Break-Out"><title>RSG Shock Break-Out</title><path d="M92.5 42.8L92.5 49.1M92.5 42.8L95.2 42.8L96.1 43.1L96.4 43.4L96.7 44L96.7 44.6L96.4 45.2L96.1 45.5L95.2 45.8L92.5 45.8M94.6 45.8L96.7 49.1M102.7 43.7L102.1 43.1L101.2 42.8L100 42.8L99.1 43.1L98.5 43.7L98.5 44.3L98.8 44.9L99.1 45.2L99.7 45.5L101.5 46.1L102.1 46.4L102.4 46.7L102.7 47.3L102.7 48.2L102.1 48.8L101.2 49.1L100 49.1L99.1 48.8L98.5 48.2M109 44.3L108.7 43.7L108.1 43.1L107.5 42.8L106.3 42.8L105.7 43.1L105.1 43.7L104.8 44.3L104.5 45.2L104.5 46.7L104.8 47.6L105.1 48.2L105.7 48.8L106.3 49.1L107.5 49.1L108.1 48.8L108.7 48.2L109 47.6L109 46.7M107.5 46.7L109 46.7M119.8 43.7L119.2 43.1L118.3 42.8L117.1 42.8L116.2 43.1L115.6 43.7L115.6 44.3L115.9 44.9L116.2 45.2L116.8 45.5L118.6 46.1L119.2 46.4L119.5 46.7L119.8 47.3L119.8 48.2L119.2 48.8L118.3 49.1L117.1 49.1L116.2 48.8L115.6 48.2M121.9 42.8L121.9 49.1M121.9 46.1L122.8 45.2L123.4 44.9L124.3 44.9L124.9 45.2L125.2 46.1L125.2 49.1M128.8 44.9L128.2 45.2L127.6 45.8L127.3 46.7L127.3 47.3L127.6 48.2L128.2 48.8L128.8 49.1L129.7 49.1L130.3 48.8L130.9 48.2L131.2 47.3L131.2 46.7L130.9 45.8L130.3 45.2L129.7 44.9L128.8 44.9M136.6 45.8L136 45.2L135.4 44.9L134.5 44.9L133.9 45.2L133.3 45.8L133 46.7L133 47.3L133.3 48.2L133.9 48.8L134.5 49.1L135.4 49.1L136 48.8L136.6 48.2M138.7 42.8L138.7 49.1M141.7 44.9L138.7 47.9M139.9 46.7L142 49.1M148.6 42.8L148.6 49.1M148.6 42.8L151.3 42.8L152.2 43.1L152.5 43.4L152.8 44L152.8 44.6L152.5 45.2L152.2 45.5L151.3 45.8M148.6 45.8L151.3 45.8L152.2 46.1L152.5 46.4L152.8 47L152.8 47.9L152.5 48.5L152.2 48.8L151.3 49.1L148.6 49.1M154.9 44.9L154.9 49.1M154.9 46.7L155.2 45.8L155.8 45.2L156.4 44.9L157.3 44.9M158.5 46.7L162.1 46.7L162.1 46.1L161.8 45.5L161.5 45.2L160.9 44.9L160 44.9L159.4 45.2L158.8 45.8L158.5 46.7L158.5 47.3L158.8 48.2L159.4 48.8L160 49.1L160.9 49.1L161.5 48.8L162.1 48.2M167.5 44.9L167.5 49.1M167.5 45.8L166.9 45.2L166.3 44.9L165.4 44.9L164.8 45.2L164.2 45.8L163.9 46.7L163.9 47.3L164.2 48.2L164.8 48.8L165.4 49.1L166.3 49.1L166.9 48.8L167.5 48.2M169.9 42.8L169.9 49.1M172.9 44.9L169.9 47.9M171.1 46.7L173.2 49.1M175 46.4L180.4 46.4M184.3 42.8L183.7 43.1L183.1 43.7L182.8 44.3L182.5 45.2L182.5 46.7L182.8 47.6L183.1 48.2L183.7 48.8L184.3 49.1L185.5 49.1L186.1 48.8L186.7 48.2L187 47.6L187.3 46.7L187.3 45.2L187 44.3L186.7 43.7L186.1 43.1L185.5 42.8L184.3 42.8M189.4 44.9L189.4 47.9L189.7 48.8L190.3 49.1L191.2 49.1L191.8 48.8L192.7 47.9M192.7 44.9L192.7 49.1M195.4 42.8L195.4 47.9L195.7 48.8L196.3 49.1L196.9 49.1M194.5 44.9L196.6 44.9" fill="none" stroke="#f00" stroke-width="1.00" stroke-linecap="round" stroke-linejoin="round"/></g>
<g role="text" aria-label="SN IIP"><title>SN IIP</title><path d="M279.3 26.8L278.7 26.2L277.8 25.9L276.6 25.9L275.7 26.2L275.1 26.8L275.1 27.4L275.4 28L275.7 28.3L276.3 28.6L278.1 29.2L278.7 29.5L279 29.8L279.3 30.4L279.3 31.3L278.7 31.9L277.8 32.2L276.6 32.2L275.7 31.9L275.1 31.3M281.4 25.9L281.4 32.2M281.4 25.9L285.6 32.2M285.6 25.9L285.6 32.2M292.8 25.9L292.8 32.2M295.2 25.9L295.2 32.2M297.6 25.9L297.6 32.2M297.6 25.9L300.3 25.9L301.2 26.2L301.5 26.5L301.8 27.1L301.8 28L301.5 28.6L301.2 28.9L300.3 29.2L297.6 29.2" fill="none" stroke="#f00" stroke-width="1.00" stroke-linecap="round" stroke-linejoin="round"/></g>
<g role="text" aria-label="Kilonova (BB)"><title>Kilonova (BB)</title><path d="M206.8 62.2L206.8 68.5M211 62.2L206.8 66.4M208.3 64.9L211 68.5M212.8 62.2L213.1 62.5L213.4 62.2L213.1 61.9L212.8 62.2M213.1 64.3L213.1 68.5M215.5 62.2L215.5 68.5M219.1 64.3L218.5 64.6L217.9 65.2L217.6 66.1L217.6 66.7L217.9 67.6L218.5 68.2L219.1 68.5L220 68.5L220.6 68.2L221.2 67.6L221.5 66.7L221.5 66.1L221.2 65.2L220.6 64.6L220 64.3L219.1 64.3M223.6 64.3L223.6 68.5M223.6 65.5L224.5 64.6L225.1 64.3L226 64.3L226.6 64.6L226.9 65.5L226.9 68.5M230.5 64.3L229.9 64.6L229.3 65.2L229 66.1L229 66.7L229.3 67.6L229.9 68.2L230.5 68.5L231.4 68.5L232 68.2L232.6 67.6L232.9 66.7L232.9 66.1L232.6 65.2L232 64.6L231.4 64.3L230.5 64.3M234.4 64.3L236.2 68.5M238 64.3L236.2 68.5M243.1 64.3L243.1 68.5M243.1 65.2L242.5 64.6L241.9 64.3L241 64.3L240.4 64.6L239.8 65.2L239.5 66.1L239.5 66.7L239.8 67.6L240.4 68.2L241 68.5L241.9 68.5L242.5 68.2L243.1 67.6M252.4 61L251.8 61.6L251.2 62.5L250.6 63.7L250.3 65.2L250.3 66.4L250.6 67.9L251.2 69.1L251.8 70L252.4 70.6M254.5 62.2L254.5 68.5M254.5 62.2L257.2 62.2L258.1 62.5L258.4 62.8L258.7 63.4L258.7 64L258.4 64.6L258.1 64.9L257.2 65.2M254.5 65.2L257.2 65.2L258.1 65.5L258.4 65.8L258.7 66.4L258.7 67.3L258.4 67.9L258.1 68.2L257.2 68.5L254.5 68.5M260.8 62.2L260.8 68.5M260.8 62.2L263.5 62.2L264.4 62.5L264.7 62.8L265 63.4L265 64L264.7 64.6L264.4 64.9L263.5 65.2M260.8 65.2L263.5 65.2L264.4 65.5L264.7 65.8L265 66.4L265 67.3L264.7 67.9L264.4 68.2L263.5 68.5L260.8 68.5M266.8 61L267.4 61.6L268 62.5L268.6 63.7L268.9 65.2L268.9 66.4L268.6 67.9L268 69.1L267.4 70L266.8 70.6" fill="none" stroke="#b03060" stroke-width="1.00" stroke-linecap="round" stroke-linejoin="round"/></g>
<g role="text" aria-label="Kilonova (Fe opacity)"><title>Kilonova (Fe opacity)</title><path d="M156.5 107.8L156.5 114.1M160.7 107.8L156.5 112M158 110.5L160.7 114.1M162.5 107.8L162.8 108.1L163.1 107.8L162.8 107.5L162.5 107.8M162.8 109.9L162.8 114.1M165.2 107.8L165.2 114.1M168.8 109.9L168.2 110.2L167.6 110.8L167.3 111.7L167.3 112.3L167.6 113.2L168.2 113.8L168.8 114.1L169.7 114.1L170.3 113.8L170.9 113.2L171.2 112.3L171.2 111.7L170.9 110.8L170.3 110.2L169.7 109.9L168.8 109.9M173.3 109.9L173.3 114.1M173.3 111.1L174.2 110.2L174.8 109.9L175.7 109.9L176.3 110.2L176.6 111.1L176.6 114.1M180.2 109.9L179.6 110.2L179 110.8L178.7 111.7L178.7 112.3L179 113.2L179.6 113.8L180.2 114.1L181.1 114.1L181.7 113.8L182.3 113.2L182.6 112.3L182.6 111.7L182.3 110.8L181.7 110.2L181.1 109.9L180.2 109.9M184.1 109.9L185.9 114.1M187.7 109.9L185.9 114.1M192.8 109.9L192.8 114.1M192.8 110.8L192.2 110.2L191.6 109.9L190.7 109.9L190.1 110.2L189.5 110.8L189.2 111.7L189.2 112.3L189.5 113.2L190.1 113.8L190.7 114.1L191.6 114.1L192.2 113.8L192.8 113.2M202.1 106.6L201.5 107.2L200.9 108.1L200.3 109.3L200 110.8L200 112L200.3 113.5L200.9 114.7L201.5 115.6L202.1 116.2M204.2 107.8L204.2 114.1M204.2 107.8L208.1 107.8M204.2 110.8L206.6 110.8M209.3 111.7L212.9 111.7L212.9 111.1L212.6 110.5L212.3 110.2L211.7 109.9L210.8 109.9L210.2 110.2L209.6 110.8L209.3 111.7L209.3 112.3L209.6 113.2L210.2 113.8L210.8 114.1L211.7 114.1L212.3 113.8L212.9 113.2M221 109.9L220.4 110.2L219.8 110.8L219.5 111.7L219.5 112.3L219.8 113.2L220.4 113.8L221 114.1L221.9 114.1L222.5 113.8L223.1 113.2L223.4 112.3L223.4 111.7L223.1 110.8L222.5 110.2L221.9 109.9L221 109.9M225.5 109.9L225.5 116.2M225.5 110.8L226.1 110.2L226.7 109.9L227.6 109.9L228.2 110.2L228.8 110.8L229.1 111.7L229.1 112.3L228.8 113.2L228.2 113.8L227.6 114.1L226.7 114.1L226.1 113.8L225.5 113.2M234.5 109.9L234.5 114.1M234.5 110.8L233.9 110.2L233.3 109.9L232.4 109.9L231.8 110.2L231.2 110.8L230.9 111.7L230.9 112.3L231.2 113.2L231.8 113.8L232.4 114.1L233.3 114.1L233.9 113.8L234.5 113.2M240.2 110.8L239.6 110.2L239 109.9L238.1 109.9L237.5 110.2L236.9 110.8L236.6 111.7L236.6 112.3L236.9 113.2L237.5 113.8L238.1 114.1L239 114.1L239.6 113.8L240.2 113.2M242 107.8L242.3 108.1L242.6 107.8L242.3 107.5L242 107.8M242.3 109.9L242.3 114.1M245 107.8L245 112.9L245.3 113.8L245.9 114.1L246.5 114.1M244.1 109.9L246.2 109.9M247.7 109.9L249.5 114.1M251.3 109.9L249.5 114.1L248.9 115.3L248.3 115.9L247.7 116.2L247.4 116.2M252.8 106.6L253.4 107.2L254 108.1L254.6 109.3L254.9 110.8L254.9 112L254.6 113.5L254 114.7L253.4 115.6L252.8 116.2" fill="none" stroke="#00f" stroke-width="1.00" stroke-linecap="round" stroke-linejoin="round"/></g>
<g role="text" aria-label="SN Ia @ 1 Gpc (1 d post-max)"><title>SN Ia @ 1 Gpc (1 d post-max)</title><path d="M283.5 135.1L282.9 134.5L282 134.2L280.8 134.2L279.9 134.5L279.3 135.1L279.3 135.7L279.6 136.3L279.9 136.6L280.5 136.9L282.3 137.5L282.9 137.8L283.2 138.1L283.5 138.7L283.5 139.6L282.9 140.2L282 140.5L280.8 140.5L279.9 140.2L279.3 139.6M285.6 134.2L285.6 140.5M285.6 134.2L289.8 140.5M289.8 134.2L289.8 140.5M297 134.2L297 140.5M302.7 136.3L302.7 140.5M302.7 137.2L302.1 136.6L301.5 136.3L300.6 136.3L300 136.6L299.4 137.2L299.1 138.1L299.1 138.7L299.4 139.6L300 140.2L300.6 140.5L301.5 140.5L302.1 140.2L302.7 139.6M314.4 136.6L314.1 136L313.5 135.7L312.6 135.7L312 136L311.7 136.3L311.4 136.9L311.4 137.8L311.7 138.4L312 138.7L312.6 139L313.5 139L314.1 138.7L314.4 138.1M314.4 135.7L314.4 138.1L314.7 138.7L315 139L315.6 139L315.9 138.7L316.2 138.1L316.2 136.9L315.9 136L315.6 135.4L315 134.8L314.4 134.5L313.5 134.2L312.6 134.2L311.7 134.5L311.1 134.8L310.5 135.4L310.2 136L309.9 136.9L309.9 137.8L310.2 138.7L310.5 139.3L311.1 139.9L311.7 140.2L312.6 140.5L313.5 140.5L314.4 140.2L315 139.9M324 135.4L324.6 135.1L325.5 134.2L325.5 140.5M338.4 135.7L338.1 135.1L337.5 134.5L336.9 134.2L335.7 134.2L335.1 134.5L334.5 135.1L334.2 135.7L333.9 136.6L333.9 138.1L334.2 139L334.5 139.6L335.1 140.2L335.7 140.5L336.9 140.5L337.5 140.2L338.1 139.6L338.4 139L338.4 138.1M336.9 138.1L338.4 138.1M340.5 136.3L340.5 142.6M340.5 137.2L341.1 136.6L341.7 136.3L342.6 136.3L343.2 136.6L343.8 137.2L344.1 138.1L344.1 138.7L343.8 139.6L343.2 140.2L342.6 140.5L341.7 140.5L341.1 140.2L340.5 139.6M349.5 137.2L348.9 136.6L348.3 136.3L347.4 136.3L346.8 136.6L346.2 137.2L345.9 138.1L345.9 138.7L346.2 139.6L346.8 140.2L347.4 140.5L348.3 140.5L348.9 140.2L349.5 139.6M358.5 133L357.9 133.6L357.3 134.5L356.7 135.7L356.4 137.2L356.4 138.4L356.7 139.9L357.3 141.1L357.9 142L358.5 142.6M361.2 135.4L361.8 135.1L362.7 134.2L362.7 140.5M374.7 134.2L374.7 140.5M374.7 137.2L374.1 136.6L373.5 136.3L372.6 136.3L372 136.6L371.4 137.2L371.1 138.1L371.1 138.7L371.4 139.6L372 140.2L372.6 140.5L373.5 140.5L374.1 140.2L374.7 139.6M381.9 136.3L381.9 142.6M381.9 137.2L382.5 136.6L383.1 136.3L384 136.3L384.6 136.6L385.2 137.2L385.5 138.1L385.5 138.7L385.2 139.6L384.6 140.2L384 140.5L383.1 140.5L382.5 140.2L381.9 139.6M388.8 136.3L388.2 136.6L387.6 137.2L387.3 138.1L387.3 138.7L387.6 139.6L388.2 140.2L388.8 140.5L389.7 140.5L390.3 140.2L390.9 139.6L391.2 138.7L391.2 138.1L390.9 137.2L390.3 136.6L389.7 136.3L388.8 136.3M396.3 137.2L396 136.6L395.1 136.3L394.2 136.3L393.3 136.6L393 137.2L393.3 137.8L393.9 138.1L395.4 138.4L396 138.7L396.3 139.3L396.3 139.6L396 140.2L395.1 140.5L394.2 140.5L393.3 140.2L393 139.6M398.7 134.2L398.7 139.3L399 140.2L399.6 140.5L400.2 140.5M397.8 136.3L399.9 136.3M402 137.8L407.4 137.8M409.8 136.3L409.8 140.5M409.8 137.5L410.7 136.6L411.3 136.3L412.2 136.3L412.8 136.6L413.1 137.5L413.1 140.5M413.1 137.5L414 136.6L414.6 136.3L415.5 136.3L416.1 136.6L416.4 137.5L416.4 140.5M422.1 136.3L422.1 140.5M422.1 137.2L421.5 136.6L420.9 136.3L420 136.3L419.4 136.6L418.8 137.2L418.5 138.1L418.5 138.7L418.8 139.6L419.4 140.2L420 140.5L420.9 140.5L421.5 140.2L422.1 139.6M424.2 136.3L427.5 140.5M427.5 136.3L424.2 140.5M429.3 133L429.9 133.6L430.5 134.5L431.1 135.7L431.4 137.2L431.4 138.4L431.1 139.9L430.5 141.1L429.9 142L429.3 142.6" fill="none" stroke="#0ff" stroke-width="1.00" stroke-linecap="round" stroke-linejoin="round"/></g>
<g role="text" aria-label="Off Axis Afterglow"><title>Off Axis Afterglow</title><path d="M139.4 172.7L138.8 173L138.2 173.6L137.9 174.2L137.6 175.1L137.6 176.6L137.9 177.5L138.2 178.1L138.8 178.7L139.4 179L140.6 179L141.2 178.7L141.8 178.1L142.1 177.5L142.4 176.6L142.4 175.1L142.1 174.2L141.8 173.6L141.2 173L140.6 172.7L139.4 172.7M146.3 172.7L145.7 172.7L145.1 173L144.8 173.9L144.8 179M143.9 174.8L146 174.8M149.9 172.7L149.3 172.7L148.7 173L148.4 173.9L148.4 179M147.5 174.8L149.6 174.8M158 172.7L155.6 179M158 172.7L160.4 179M156.5 176.9L159.5 176.9M161.6 174.8L164.9 179M164.9 174.8L161.6 179M166.7 172.7L167 173L167.3 172.7L167 172.4L166.7 172.7M167 174.8L167 179M172.4 175.7L172.1 175.1L171.2 174.8L170.3 174.8L169.4 175.1L169.1 175.7L169.4 176.3L170 176.6L171.5 176.9L172.1 177.2L172.4 177.8L172.4 178.1L172.1 178.7L171.2 179L170.3 179L169.4 178.7L169.1 178.1M180.8 172.7L178.4 179M180.8 172.7L183.2 179M179.3 176.9L182.3 176.9M186.5 172.7L185.9 172.7L185.3 173L185 173.9L185 179M184.1 174.8L186.2 174.8M188.6 172.7L188.6 177.8L188.9 178.7L189.5 179L190.1 179M187.7 174.8L189.8 174.8M191.6 176.6L195.2 176.6L195.2 176L194.9 175.4L194.6 175.1L194 174.8L193.1 174.8L192.5 175.1L191.9 175.7L191.6 176.6L191.6 177.2L191.9 178.1L192.5 178.7L193.1 179L194 179L194.6 178.7L195.2 178.1M197.3 174.8L197.3 179M197.3 176.6L197.6 175.7L198.2 175.1L198.8 174.8L199.7 174.8M204.5 174.8L204.5 179.6L204.2 180.5L203.9 180.8L203.3 181.1L202.4 181.1L201.8 180.8M204.5 175.7L203.9 175.1L203.3 174.8L202.4 174.8L201.8 175.1L201.2 175.7L200.9 176.6L200.9 177.2L201.2 178.1L201.8 178.7L202.4 179L203.3 179L203.9 178.7L204.5 178.1M206.9 172.7L206.9 179M210.5 174.8L209.9 175.1L209.3 175.7L209 176.6L209 177.2L209.3 178.1L209.9 178.7L210.5 179L211.4 179L212 178.7L212.6 178.1L212.9 177.2L212.9 176.6L212.6 175.7L212 175.1L211.4 174.8L210.5 174.8M214.7 174.8L215.9 179M217.1 174.8L215.9 179M217.1 174.8L218.3 179M219.5 174.8L218.3 179" fill="none" stroke="#0f0" stroke-width="1.00" stroke-linecap="round" stroke-linejoin="round"/></g>
<g role="text" aria-label="Off Axis Afterglow"><title>Off Axis Afterglow</title><path d="M322.3 182.8L321.7 183.1L321.1 183.7L320.8 184.3L320.5 185.2L320.5 186.7L320.8 187.6L321.1 188.2L321.7 188.8L322.3 189.1L323.5 189.1L324.1 188.8L324.7 188.2L325 187.6L325.3 186.7L325.3 185.2L325 184.3L324.7 183.7L324.1 183.1L323.5 182.8L322.3 182.8M329.2 182.8L328.6 182.8L328 183.1L327.7 184L327.7 189.1M326.8 184.9L328.9 184.9M332.8 182.8L332.2 182.8L331.6 183.1L331.3 184L331.3 189.1M330.4 184.9L332.5 184.9M340.9 182.8L338.5 189.1M340.9 182.8L343.3 189.1M339.4 187L342.4 187M344.5 184.9L347.8 189.1M347.8 184.9L344.5 189.1M349.6 182.8L349.9 183.1L350.2 182.8L349.9 182.5L349.6 182.8M349.9 184.9L349.9 189.1M355.3 185.8L355 185.2L354.1 184.9L353.2 184.9L352.3 185.2L352 185.8L352.3 186.4L352.9 186.7L354.4 187L355 187.3L355.3 187.9L355.3 188.2L355 188.8L354.1 189.1L353.2 189.1L352.3 188.8L352 188.2M363.7 182.8L361.3 189.1M363.7 182.8L366.1 189.1M362.2 187L365.2 187M369.4 182.8L368.8 182.8L368.2 183.1L367.9 184L367.9 189.1M367 184.9L369.1 184.9M371.5 182.8L371.5 187.9L371.8 188.8L372.4 189.1L373 189.1M370.6 184.9L372.7 184.9M374.5 186.7L378.1 186.7L378.1 186.1L377.8 185.5L377.5 185.2L376.9 184.9L376 184.9L375.4 185.2L374.8 185.8L374.5 186.7L374.5 187.3L374.8 188.2L375.4 188.8L376 189.1L376.9 189.1L377.5 188.8L378.1 188.2M380.2 184.9L380.2 189.1M380.2 186.7L380.5 185.8L381.1 185.2L381.7 184.9L382.6 184.9M387.4 184.9L387.4 189.7L387.1 190.6L386.8 190.9L386.2 191.2L385.3 191.2L384.7 190.9M387.4 185.8L386.8 185.2L386.2 184.9L385.3 184.9L384.7 185.2L384.1 185.8L383.8 186.7L383.8 187.3L384.1 188.2L384.7 188.8L385.3 189.1L386.2 189.1L386.8 188.8L387.4 188.2M389.8 182.8L389.8 189.1M393.4 184.9L392.8 185.2L392.2 185.8L391.9 186.7L391.9 187.3L392.2 188.2L392.8 188.8L393.4 189.1L394.3 189.1L394.9 188.8L395.5 188.2L395.8 187.3L395.8 186.7L395.5 185.8L394.9 185.2L394.3 184.9L393.4 184.9M397.6 184.9L398.8 189.1M400 184.9L398.8 189.1M400 184.9L401.2 189.1M402.4 184.9L401.2 189.1" fill="none" stroke="#ffa500" stroke-width="1.00" stroke-linecap="round" stroke-linejoin="round"/></g>
<g role="text" aria-label="SN Ia @ 3 Gpc (12 d pre-max)"><title>SN Ia @ 3 Gpc (12 d pre-max)</title><path d="M118.9 235.7L118.3 235.1L117.4 234.8L116.2 234.8L115.3 235.1L114.7 235.7L114.7 236.3L115 236.9L115.3 237.2L115.9 237.5L117.7 238.1L118.3 238.4L118.6 238.7L118.9 239.3L118.9 240.2L118.3 240.8L117.4 241.1L116.2 241.1L115.3 240.8L114.7 240.2M121 234.8L121 241.1M121 234.8L125.2 241.1M125.2 234.8L125.2 241.1M132.4 234.8L132.4 241.1M138.1 236.9L138.1 241.1M138.1 237.8L137.5 237.2L136.9 236.9L136 236.9L135.4 237.2L134.8 237.8L134.5 238.7L134.5 239.3L134.8 240.2L135.4 240.8L136 241.1L136.9 241.1L137.5 240.8L138.1 240.2M149.8 237.2L149.5 236.6L148.9 236.3L148 236.3L147.4 236.6L147.1 236.9L146.8 237.5L146.8 238.4L147.1 239L147.4 239.3L148 239.6L148.9 239.6L149.5 239.3L149.8 238.7M149.8 236.3L149.8 238.7L150.1 239.3L150.4 239.6L151 239.6L151.3 239.3L151.6 238.7L151.6 237.5L151.3 236.6L151 236L150.4 235.4L149.8 235.1L148.9 234.8L148 234.8L147.1 235.1L146.5 235.4L145.9 236L145.6 236.6L145.3 237.5L145.3 238.4L145.6 239.3L145.9 239.9L146.5 240.5L147.1 240.8L148 241.1L148.9 241.1L149.8 240.8L150.4 240.5M159.1 234.8L162.4 234.8L160.6 237.2L161.5 237.2L162.1 237.5L162.4 237.8L162.7 238.7L162.7 239.3L162.4 240.2L161.8 240.8L160.9 241.1L160 241.1L159.1 240.8L158.8 240.5L158.5 239.9M173.8 236.3L173.5 235.7L172.9 235.1L172.3 234.8L171.1 234.8L170.5 235.1L169.9 235.7L169.6 236.3L169.3 237.2L169.3 238.7L169.6 239.6L169.9 240.2L170.5 240.8L171.1 241.1L172.3 241.1L172.9 240.8L173.5 240.2L173.8 239.6L173.8 238.7M172.3 238.7L173.8 238.7M175.9 236.9L175.9 243.2M175.9 237.8L176.5 237.2L177.1 236.9L178 236.9L178.6 237.2L179.2 237.8L179.5 238.7L179.5 239.3L179.2 240.2L178.6 240.8L178 241.1L177.1 241.1L176.5 240.8L175.9 240.2M184.9 237.8L184.3 237.2L183.7 236.9L182.8 236.9L182.2 237.2L181.6 237.8L181.3 238.7L181.3 239.3L181.6 240.2L182.2 240.8L182.8 241.1L183.7 241.1L184.3 240.8L184.9 240.2M193.9 233.6L193.3 234.2L192.7 235.1L192.1 236.3L191.8 237.8L191.8 239L192.1 240.5L192.7 241.7L193.3 242.6L193.9 243.2M196.6 236L197.2 235.7L198.1 234.8L198.1 241.1M202 236.3L202 236L202.3 235.4L202.6 235.1L203.2 234.8L204.4 234.8L205 235.1L205.3 235.4L205.6 236L205.6 236.6L205.3 237.2L204.7 238.1L201.7 241.1L205.9 241.1M216.1 234.8L216.1 241.1M216.1 237.8L215.5 237.2L214.9 236.9L214 236.9L213.4 237.2L212.8 237.8L212.5 238.7L212.5 239.3L212.8 240.2L213.4 240.8L214 241.1L214.9 241.1L215.5 240.8L216.1 240.2M223.3 236.9L223.3 243.2M223.3 237.8L223.9 237.2L224.5 236.9L225.4 236.9L226 237.2L226.6 237.8L226.9 238.7L226.9 239.3L226.6 240.2L226 240.8L225.4 241.1L224.5 241.1L223.9 240.8L223.3 240.2M229 236.9L229 241.1M229 238.7L229.3 237.8L229.9 237.2L230.5 236.9L231.4 236.9M232.6 238.7L236.2 238.7L236.2 238.1L235.9 237.5L235.6 237.2L235 236.9L234.1 236.9L233.5 237.2L232.9 237.8L232.6 238.7L232.6 239.3L232.9 240.2L233.5 240.8L234.1 241.1L235 241.1L235.6 240.8L236.2 240.2M238.3 238.4L243.7 238.4M246.1 236.9L246.1 241.1M246.1 238.1L247 237.2L247.6 236.9L248.5 236.9L249.1 237.2L249.4 238.1L249.4 241.1M249.4 238.1L250.3 237.2L250.9 236.9L251.8 236.9L252.4 237.2L252.7 238.1L252.7 241.1M258.4 236.9L258.4 241.1M258.4 237.8L257.8 237.2L257.2 236.9L256.3 236.9L255.7 237.2L255.1 237.8L254.8 238.7L254.8 239.3L255.1 240.2L255.7 240.8L256.3 241.1L257.2 241.1L257.8 240.8L258.4 240.2M260.5 236.9L263.8 241.1M263.8 236.9L260.5 241.1M265.6 233.6L266.2 234.2L266.8 235.1L267.4 236.3L267.7 237.8L267.7 239L267.4 240.5L266.8 241.7L266.2 242.6L265.6 243.2" fill="none" stroke="#000" stroke-width="1.00" stroke-linecap="round" stroke-linejoin="round"/></g>
</svg>
</body></html>
